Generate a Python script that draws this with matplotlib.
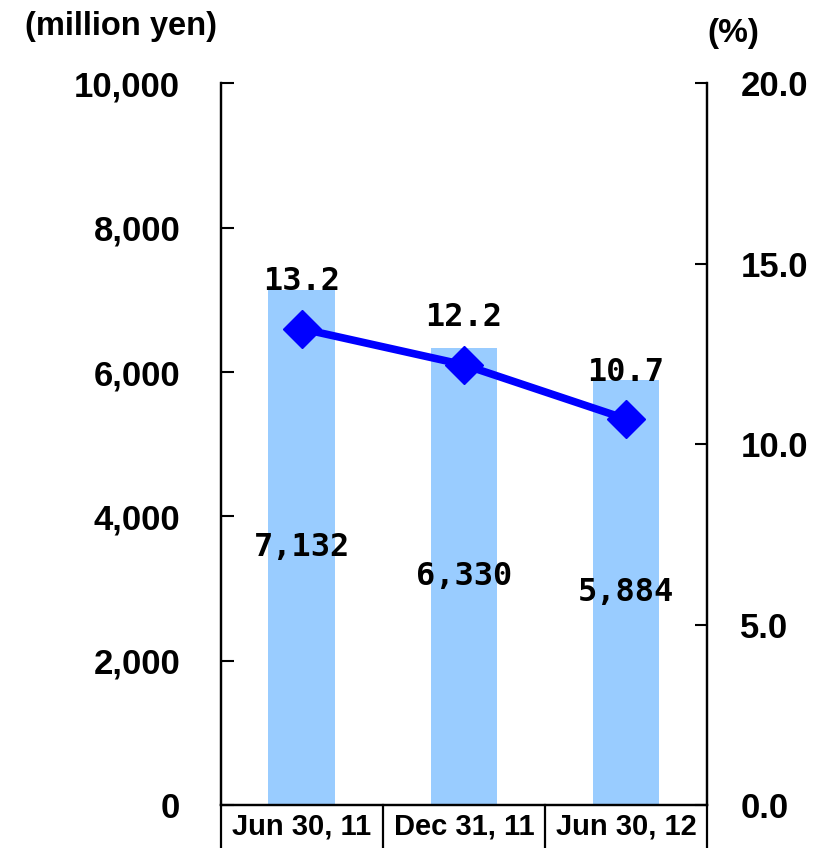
import numpy as np
import matplotlib.pyplot as plt

# Data
categories = ["Jun 30, 11", "Dec 31, 11", "Jun 30, 12"]
amounts = [7132, 6330, 5884]          # million yen
ratios = [13.2, 12.2, 10.7]           # %
amount_labels = ["7,132", "6,330", "5,884"]
ratio_labels = ["13.2", "12.2", "10.7"]

left_ticks = [0, 2000, 4000, 6000, 8000, 10000]
left_ticklabels = ["0", "2,000", "4,000", "6,000", "8,000", "10,000"]
right_ticks = [0, 5, 10, 15, 20]
right_ticklabels = ["0.0", "5.0", "10.0", "15.0", "20.0"]

sans = ["Liberation Sans", "DejaVu Sans"]
mono = ["DejaVu Sans Mono"]

fig = plt.figure(figsize=(8.29, 8.48), dpi=100)
ax = fig.add_axes([0.266, 0.0507, 0.587, 0.851])

x = np.arange(len(categories))
ax.bar(x, amounts, width=0.41, color="#99CCFF", zorder=1)
ax.set_xlim(-0.5, 2.5)
ax.set_ylim(0, 10000)
ax.set_xticks([])
ax.set_yticks(left_ticks)
ax.set_yticklabels(left_ticklabels, fontfamily=sans, fontweight="bold", fontsize=25)
ax.tick_params(axis="y", direction="in", length=9, width=1.5, pad=29)
ax.spines["top"].set_visible(False)
for s in ["left", "right", "bottom"]:
    ax.spines[s].set_linewidth(1.6)

# amount labels at mid-height of each bar
for xi, v, t in zip(x, amounts, amount_labels):
    ax.text(xi, v / 2, t, ha="center", va="center", fontsize=23,
            fontfamily=mono, fontweight="bold", zorder=5)

# ratio line on right axis
ax2 = ax.twinx()
ax2.set_ylim(0, 20)
ax2.plot(x, ratios, color="#0000FF", lw=5.5, marker="D", markersize=19, zorder=4)
ax2.set_yticks(right_ticks)
ax2.set_yticklabels(right_ticklabels, fontfamily=sans, fontweight="bold", fontsize=25)
ax2.tick_params(axis="y", direction="in", length=9, width=1.5, pad=24)
ax2.spines["top"].set_visible(False)
for s in ["left", "right", "bottom"]:
    ax2.spines[s].set_linewidth(1.6)

for xi, v, t in zip(x, ratios, ratio_labels):
    ax2.text(xi, v + 1.3, t, ha="center", va="center", fontsize=23,
             fontfamily=mono, fontweight="bold", zorder=5)

# category boxes under the axis
for bx in [0, 1 / 3, 2 / 3, 1]:
    ax.plot([bx, bx], [0, -0.08], transform=ax.transAxes, color="black",
            lw=1.6, clip_on=False)
for i, c in enumerate(categories):
    ax.text((i + 0.5) / 3, -0.03, c, transform=ax.transAxes, ha="center",
            va="center", fontsize=21, fontweight="bold", fontfamily=sans)

# axis unit titles
fig.text(0.03, 0.969, "(million yen)", ha="left", va="center", fontsize=23.5,
         fontweight="bold", fontfamily=sans)
fig.text(0.885, 0.961, "(%)", ha="center", va="center", fontsize=24,
         fontweight="bold", fontfamily=sans)

fig.savefig("out.png", dpi=100)
